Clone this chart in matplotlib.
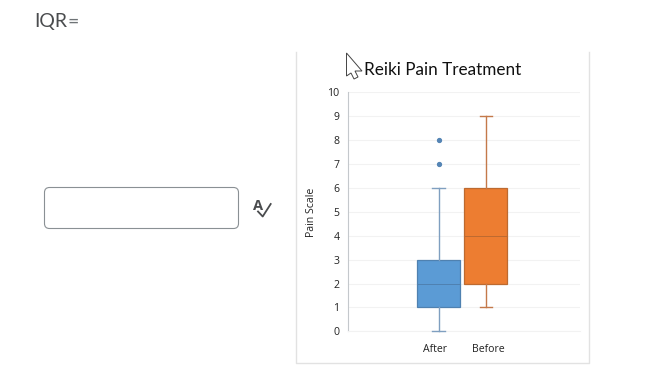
import matplotlib
matplotlib.use('Agg')
import matplotlib.pyplot as plt
from matplotlib.patches import FancyBboxPatch, Polygon
from matplotlib.transforms import ScaledTranslation

# Values
groups = ['After', 'Before']
low_whisker = [0, 1]
q1 = [1, 2]
median = [2, 4]
q3 = [3, 6]
high_whisker = [6, 9]
outliers = [[7, 8], []]
box_colors = ['#5b9bd5', '#ed7d31']
edge_colors = ['#4f81b0', '#bd6a30']
whisker_colors = ['#7f9fc0', '#c4794a']
y_ticks = list(range(0, 11))

W, H = 670, 385
fig = plt.figure(figsize=(W / 100, H / 100), dpi=100, facecolor='white')

# page layer in pixel coordinates (y pointing down)
page = fig.add_axes([0, 0, 1, 1])
page.set_xlim(0, W)
page.set_ylim(H, 0)
page.axis('off')

page.text(34.5, 27.5, 'IQR', family='Lato', fontsize=14, color='#4a4c4e', va='baseline')
page.text(67.5, 27.5, '=', family='Lato', fontsize=14, color='#6e7376', va='baseline')

# answer box and the spell check icon
page.add_patch(FancyBboxPatch((44.5, 187.5), 194, 41, boxstyle='round,pad=0,rounding_size=5',
                              fc='white', ec='#8a9094', lw=0.8))
page.text(258, 210, 'A', family='Open Sans', fontsize=10.5, fontweight='bold', color='#4a4c4e',
          ha='center', va='baseline')
page.plot([258, 262.7, 270.7], [211.5, 216.5, 204], color='#4a4c4e', lw=1.3)

# chart panel, top edge is cut off in the screenshot
page.plot([296, 296, 588.5, 588.5], [52, 362.5, 362.5, 52], color='#e2e2e2', lw=1)

page.text(443, 75, 'Reiki Pain Treatment', family='Lato', fontsize=12.3, color='#111111',
          ha='center', va='baseline')

# mouse pointer over the title
page.add_patch(Polygon([(346.5, 53), (346.5, 76), (351, 73), (354, 79), (358, 77),
                        (355, 71), (362, 71)], closed=True, fc='white', ec='#444444', lw=0.7, zorder=5))

# the box plot itself
left, right, top, bottom = 348, 580, 92.3, 331.3
ax = fig.add_axes([left / W, 1 - bottom / H, (right - left) / W, (bottom - top) / H])
ax.set_facecolor('none')

stats = []
for i, g in enumerate(groups):
    stats.append({'label': g, 'whislo': low_whisker[i], 'q1': q1[i], 'med': median[i],
                  'q3': q3[i], 'whishi': high_whisker[i], 'fliers': outliers[i]})

art = ax.bxp(stats, positions=[1, 2], widths=0.905, capwidths=0.26, patch_artist=True,
             flierprops=dict(marker='o', markersize=2.8, markerfacecolor='#5585b5',
                             markeredgecolor='#5585b5'))
for i in range(2):
    art['boxes'][i].set(facecolor=box_colors[i], edgecolor=edge_colors[i], linewidth=0.9, zorder=3)
    art['medians'][i].set(color=edge_colors[i], linewidth=0.7, zorder=4)
    for part in art['whiskers'][2 * i:2 * i + 2] + art['caps'][2 * i:2 * i + 2]:
        part.set(color=whisker_colors[i], linewidth=1, zorder=3, clip_on=False)

ax.set_xlim(-0.918, 3.998)
ax.set_ylim(0, 10)
ax.set_yticks(y_ticks)
ax.grid(axis='y', color='#f2f2f2', lw=0.8)
ax.set_axisbelow(True)
for s in ['top', 'right']:
    ax.spines[s].set_visible(False)
ax.spines['bottom'].set_color('#f2f2f2')
ax.spines['left'].set_color('#c4c8cc')
ax.tick_params(axis='both', length=0, labelsize=7.6, labelcolor='#222222')
ax.tick_params(axis='y', pad=6)
ax.tick_params(axis='x', pad=9)
for lab in ax.get_xticklabels() + ax.get_yticklabels():
    lab.set_family('Open Sans')

# x labels sit a little off the box centres
for lab, dx in zip(ax.get_xticklabels(), [-3.5, 3]):
    lab.set_transform(lab.get_transform() + ScaledTranslation(dx / 100, 0, fig.dpi_scale_trans))

page.text(311, 212, 'Pain Scale', family='Open Sans', fontsize=7.6, color='#222222', rotation=90,
          ha='center', va='center')

fig.savefig('out.png', dpi=100)
